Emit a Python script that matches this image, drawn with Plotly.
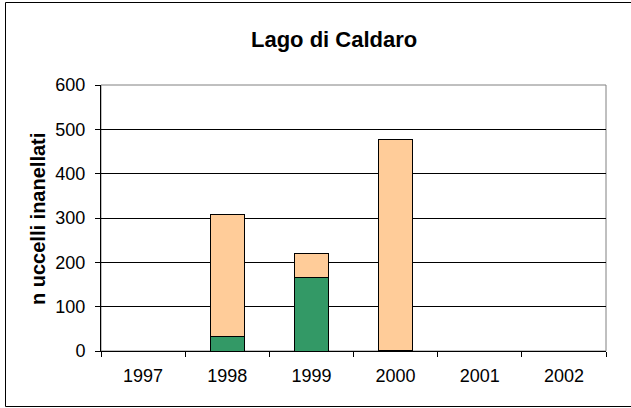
import plotly.graph_objects as go

years = ["1997", "1998", "1999", "2000", "2001", "2002"]
green_vals = [0, 33, 166, 2, 0, 0]
peach_vals = [0, 274, 55, 475, 0, 0]
y_ticks = [0, 100, 200, 300, 400, 500, 600]

W, H = 631, 408
L, R, T, B = 101, 25, 85, 57
pw, ph = W - L - R, H - T - B

def px_x(px):
    return (px - L) / pw

def px_y(py):
    return (H - B - py) / ph

font = "Arial, Liberation Sans, sans-serif"

fig = go.Figure()
fig.add_trace(go.Bar(x=years, y=green_vals, marker=dict(color="#339966", line=dict(color="black", width=1)), showlegend=False))
fig.add_trace(go.Bar(x=years, y=peach_vals, marker=dict(color="#FFCC99", line=dict(color="black", width=1)), showlegend=False))

fig.update_layout(
    width=W, height=H,
    margin=dict(l=L, r=R, t=T, b=B),
    barmode="stack",
    bargap=0.6,
    paper_bgcolor="white",
    plot_bgcolor="white",
    font=dict(family=font, size=18, color="black"),
    xaxis=dict(
        type="category",
        tickson="boundaries",
        ticks="outside", ticklen=5, tickcolor="black",
        showline=True, linecolor="black", linewidth=1,
        showgrid=False,
        tickfont=dict(size=18),
        ticklabelstandoff=8,
    ),
    yaxis=dict(
        range=[0, 600],
        tickvals=y_ticks,
        ticks="outside", ticklen=5, tickcolor="black",
        showline=True, linecolor="black", linewidth=1,
        showgrid=True, gridcolor="black", gridwidth=1,
        zeroline=False,
        tickfont=dict(size=18),
        ticklabelstandoff=6,
    ),
    shapes=[
        dict(type="rect", xref="paper", yref="paper", x0=0, x1=1, y0=0, y1=1,
             line=dict(color="#808080", width=1), layer="below"),
        dict(type="rect", xref="paper", yref="paper",
             x0=px_x(5.5), x1=px_x(631.5), y0=px_y(406.5), y1=px_y(2.5),
             line=dict(color="black", width=1), layer="below"),
    ],
    annotations=[
        dict(text="<b>Lago di Caldaro</b>", xref="paper", yref="paper",
             x=px_x(334), y=px_y(39), showarrow=False,
             font=dict(size=22, family=font), xanchor="center", yanchor="middle"),
        dict(text="<b>n uccelli inanellati</b>", xref="paper", yref="paper",
             x=px_x(38), y=px_y(219), showarrow=False, textangle=-90,
             font=dict(size=20, family=font), xanchor="center", yanchor="middle"),
    ],
)

fig.write_html("out.html", config={"displayModeBar": False},
               post_script="document.body.style.margin='0';")
